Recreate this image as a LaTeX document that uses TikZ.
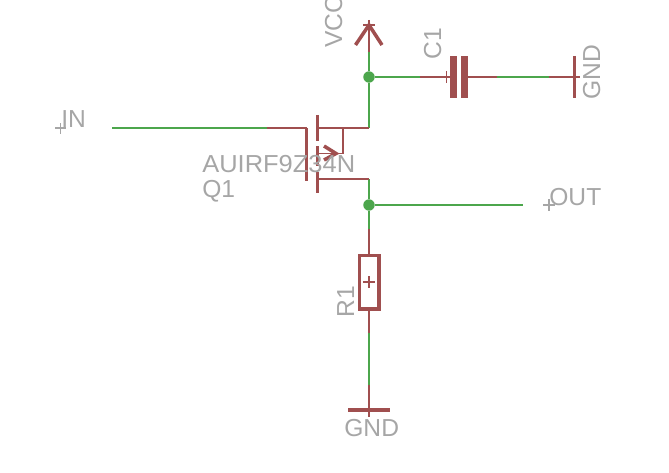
\documentclass[tikz,border=0pt]{standalone}
\usepackage{fontspec}
\setmainfont{Liberation Sans}
\definecolor{netgreen}{HTML}{4CA64C}
\definecolor{symred}{HTML}{A04F4F}
\definecolor{labelgray}{HTML}{A6A6A6}
\tikzset{
	wire/.style={draw=netgreen, line width=1.35pt},
	pin/.style={draw=symred, line width=1.35pt},
	bar/.style={draw=symred, line width=2pt},
	plate/.style={fill=symred, draw=none},
	thin mark/.style={draw=symred, line width=0.6pt},
	origin mark/.style={draw=labelgray, line width=0.6pt},
	junction/.style={circle, fill=netgreen, draw=none, minimum size=6.5pt, inner sep=0pt},
	lbl/.style={text=labelgray, font=\fontsize{14}{14}\selectfont, inner sep=0pt, anchor=base west},
	vlbl/.style={lbl, rotate=90},
}
\begin{document}
\begin{tikzpicture}[x=0.02cm, y=-0.02cm]
	\clip[use as bounding box] (0,0) rectangle (669,473);
	% net points
	\coordinate (in) at (112,128);
	\coordinate (gatepin) at (267,128);
	\coordinate (gate) at (306.5,128);
	\coordinate (gateend) at (306.5,181);
	\coordinate (drain) at (369,128);
	\coordinate (source) at (369,179);
	\coordinate (body) at (343,128);
	\coordinate (bodyend) at (343,153.5);
	\coordinate (channel) at (318,153.5);
	\coordinate (vccpin) at (369,52);
	\coordinate (vcctip) at (369,25);
	\coordinate (c1left) at (420,77);
	\coordinate (c1plate) at (450,77);
	\coordinate (c1right) at (468,77);
	\coordinate (c1end) at (497,77);
	\coordinate (gndpin) at (549,77);
	\coordinate (gndbar) at (574.5,77);
	\coordinate (out) at (523,205);
	\coordinate (r1top) at (369,229);
	\coordinate (r1bot) at (369,333);
	\coordinate (gnd2pin) at (369,385);
	\coordinate (gnd2bar) at (369,410);
	\node[junction] (topdot) at (369,77) {};
	\node[junction] (outdot) at (369,205) {};

	% nets
	\draw[wire] (in) -- (gatepin);
	\draw[wire] (vccpin) -- (topdot) -- (drain);
	\draw[wire] (topdot) -- (c1left);
	\draw[wire] (c1end) -- (gndpin);
	\draw[wire] (source) -- (outdot) -- (r1top);
	\draw[wire] (outdot) -- (out);
	\draw[wire] (r1bot) -- (gnd2pin);

	% Q1
	\draw[pin] (gatepin) -- (gate);
	\draw[bar] (gate) -- (gateend);
	\draw[bar] (317.5,115) -- (317.5,141);
	\draw[bar] (317.5,146) -- (317.5,166);
	\draw[bar] (317.5,172) -- (317.5,193);
	\draw[pin] (318,128) -- (drain);
	\draw[pin] (318,179) -- (source);
	\draw[pin] (body) -- (bodyend);
	\draw[thin mark, line width=0.85pt] (channel) -- (bodyend);
	\draw[bar] (324,146) -- (336,153.5) -- (324,160);

	% VCC
	\draw[pin] (vccpin) -- (vcctip);
	\draw[bar] (355.5,45) -- (vcctip) -- (382,45);
	\draw[thin mark] (363,25) -- (375,25);
	\draw[thin mark] (369,20) -- (369,30);

	% C1
	\draw[pin] (c1left) -- (c1plate);
	\draw[pin] (c1right) -- (c1end);
	\path[plate] (450,56) rectangle (457,98.5);
	\path[plate] (461,56) rectangle (468,98.5);
	\draw[thin mark] (446.7,71) -- (446.7,83);

	% GND right
	\draw[pin] (gndpin) -- (gndbar);
	\draw[bar] (574.5,56) -- (574.5,98);
	\draw[thin mark] (gndbar) -- (580,77);

	% R1
	\draw[pin] (r1top) -- (369,255.5);
	\draw[pin] (369,309) -- (r1bot);
	\draw[bar] (359.5,255.5) rectangle (379,309);
	\draw[thin mark] (363,282) -- (375,282);
	\draw[thin mark] (369,276) -- (369,288);

	% GND bottom
	\draw[pin] (gnd2pin) -- (gnd2bar);
	\draw[bar] (348,410) -- (390,410);
	\draw[thin mark] (gnd2bar) -- (369,417);

	% origin marks
	\draw[origin mark] (55,128) -- (66,128);
	\draw[origin mark] (60.5,123) -- (60.5,134);
	\draw[origin mark] (543,205) -- (555,205);
	\draw[origin mark] (549,199) -- (549,211);

	% labels
	\node[lbl] (inlabel) at (61,128) {IN};
	\node[lbl] (outlabel) at (549,205) {OUT};
	\node[lbl, xscale=1.035] (q1value) at (202,172) {AUIRF9Z34N};
	\node[lbl] (q1name) at (202,197) {Q1};
	\node[lbl] (gndlabel) at (344,436) {GND};
	\node[vlbl] (vcclabel) at (342,48) {VCC};
	\node[vlbl] (c1label) at (441,60) {C1};
	\node[vlbl] (gndlabelr) at (600,100) {GND};
	\node[vlbl] (r1label) at (354,318) {R1};
\end{tikzpicture}
\end{document}
